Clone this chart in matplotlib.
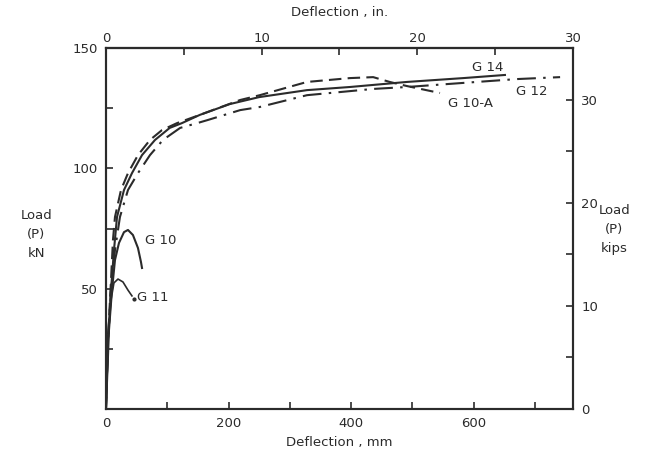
import numpy as np
import matplotlib.pyplot as plt

# Load-deflection curves, deflection in mm, load in kN
g14_x = [0, 3.3, 8.2, 13.1, 18, 29.4, 42.4, 58.8, 80, 104, 124, 153, 202, 250, 328, 398, 491, 583, 651]
g14_y = [0, 28.7, 49.4, 66.1, 79.8, 91, 98, 105.5, 111.8, 116.8, 118.8, 122.2, 126.7, 129.6, 132.5, 133.8, 135.9, 137.5, 138.8]

g10a_x = [0, 3.3, 8.2, 11.4, 14.7, 24.5, 35.9, 52.2, 71.8, 91.4, 116, 153, 219, 251, 328, 398, 436, 463, 491, 545]
g10a_y = [0, 28.7, 53.6, 70.2, 79.8, 91, 98, 105.5, 111.8, 115.9, 118.8, 122.2, 128.4, 130.4, 135.9, 137.5, 137.9, 135.9, 134.2, 131.3]

g12_x = [0, 3.3, 8.2, 14.7, 22.8, 35.9, 52.2, 71.8, 93, 121, 149, 165, 219, 251, 328, 436, 491, 583, 671, 741]
g12_y = [0, 28.7, 49.4, 66.1, 79.8, 91, 98, 105.5, 111.8, 116.8, 118.8, 120, 124.2, 125.5, 130.4, 133, 133.8, 135.5, 137.1, 137.9]

g10_x = [0, 4.9, 9.8, 14.7, 21.2, 29.4, 35.9, 44, 52.2, 57.1, 58.8]
g10_y = [0, 32.8, 49.4, 61.9, 69, 73.5, 74.4, 72.3, 66.9, 61.1, 58.6]

g11_x = [0, 3.3, 8.2, 13, 19.6, 27.7, 35.9, 42.4]
g11_y = [0, 28.7, 45.3, 52.4, 54, 52.8, 49.4, 47]
g11_dot = (45.7, 45.7)

MM_PER_IN = 25.4

ink = '#2b2b2b'
plt.rcParams['font.family'] = 'DejaVu Sans'
plt.rcParams['font.size'] = 9.5

fig = plt.figure(figsize=(6.57, 4.59), dpi=100)
ax = fig.add_axes([0.1613, 0.1089, 0.7108, 0.7865])

ax.plot(g14_x, g14_y, color=ink, lw=1.5)
ax.plot(g10a_x, g10a_y, color=ink, lw=1.5, dashes=(6, 3))
ax.plot(g12_x, g12_y, color=ink, lw=1.5, dashes=(9, 3.5, 1.2, 3.5))
ax.plot(g10_x, g10_y, color=ink, lw=1.5)
ax.plot(g11_x, g11_y, color=ink, lw=1.2)
ax.plot([g11_dot[0]], [g11_dot[1]], 'o', color=ink, ms=2)

# curve labels
ax.text(623, 142, 'G 14', ha='center', va='center', color=ink)
ax.text(695, 132, 'G 12', ha='center', va='center', color=ink)
ax.text(594, 127, 'G 10-A', ha='center', va='center', color=ink)
ax.text(90, 70, 'G 10', ha='center', va='center', color=ink)
ax.text(76, 46.5, 'G 11', ha='center', va='center', color=ink)

ax.set_xlim(0, 30 * MM_PER_IN)
ax.set_ylim(0, 150)

ax.set_xticks(np.arange(0, 701, 100))
ax.set_xticklabels(['0', '', '200', '', '400', '', '600', ''])
ax.set_yticks(np.arange(0, 151, 25))
ax.set_yticklabels(['', '', '50', '', '100', '', '150'])
ax.tick_params(direction='in', length=5, width=1.2, colors=ink, pad=6)

for s in ax.spines.values():
    s.set_linewidth(1.5)
    s.set_color(ink)

# top axis in inches
top = ax.secondary_xaxis('top', functions=(lambda v: v / MM_PER_IN, lambda v: v * MM_PER_IN))
top.set_xticks(np.arange(0, 31, 5))
top.set_xticklabels(['0', '', '10', '', '20', '', '30'])
top.tick_params(direction='in', length=5, width=1.2, colors=ink, pad=2)
top.spines['top'].set_linewidth(1.5)
top.set_xlabel('Deflection , in.', labelpad=12, color=ink)

# right axis in kips
right = ax.twinx()
right.set_ylim(0, 35)
right.set_yticks(np.arange(0, 31, 5))
right.set_yticklabels(['0', '', '10', '', '20', '', '30'])
right.tick_params(direction='in', length=5, width=1.2, colors=ink, pad=6)
for s in right.spines.values():
    s.set_linewidth(1.5)
    s.set_color(ink)

ax.set_xlabel('Deflection , mm', labelpad=4, color=ink)
fig.text(0.055, 0.49, 'Load\n(P)\nkN', ha='center', va='center', color=ink, linespacing=1.6)
fig.text(0.935, 0.50, 'Load\n(P)\nkips', ha='center', va='center', color=ink, linespacing=1.6)

fig.savefig('out.png', dpi=100)
